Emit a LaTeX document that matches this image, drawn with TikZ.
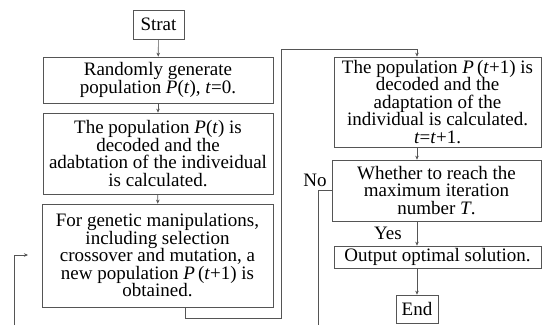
\documentclass[tikz,border=0pt]{standalone}
\usepackage{fontspec}
\setmainfont{Liberation Serif}
\usetikzlibrary{arrows.meta}

\definecolor{linegray}{RGB}{85,85,85}
\newcommand{\flowfont}{\fontsize{19}{17.5}\selectfont}

\tikzset{
    stepbox/.style={draw=linegray, line width=0.7pt, inner sep=0pt, align=center, font=\flowfont},
    link/.style={draw=linegray, line width=0.6pt},
    linkarrow/.style={link, -{Stealth[length=4pt,width=3.5pt]}}
}

\begin{document}
\begin{tikzpicture}[x=1pt,y=-1pt]
    \useasboundingbox (0,0) rectangle (550,325);

    % left column
    \node[stepbox, minimum width=51pt, minimum height=29pt] (strat) at (158.5,24.5) {Strat};
    \node[stepbox, minimum width=230pt, minimum height=46pt] (rand) at (158,80) {Randomly generate\\population \textit{P}(\textit{t}), \textit{t}=0.};
    \node[stepbox, minimum width=230pt, minimum height=81pt] (decode) at (158,153.5) {The population \textit{P}(\textit{t}) is\\decoded and the\\adabtation of the indiveidual\\is calculated.};
    \node[stepbox, minimum width=231pt, minimum height=103pt] (genetic) at (157.5,255.5) {For genetic manipulations,\\including selection\\crossover and mutation, a\\new population \textit{P}\,(\textit{t}+1) is\\obtained.};

    % right column
    \node[stepbox, minimum width=207pt, minimum height=90pt] (decodeN) at (437.5,102) {The population \textit{P}\,(\textit{t}+1) is\\decoded and the\\adaptation of the\\individual is calculated.\\\textit{t}=\textit{t}+1.};
    \node[stepbox, minimum width=209pt, minimum height=61pt] (check) at (436.5,190.5) {Whether to reach the\\maximum iteration\\number \textit{T}.};
    \node[stepbox, minimum width=207pt, minimum height=22pt] (output) at (437.5,257) {Output optimal solution.};
    \node[stepbox, minimum width=42pt, minimum height=28pt] (end) at (417,309) {End};

    \node[font=\flowfont] (no) at (315,180) {No};
    \node[font=\flowfont] (yes) at (388,233) {Yes};

    % helper points for the bends
    \coordinate (col) at (417,0);
    \coordinate (gx) at (185,0);
    \coordinate (loopB) at (281,318);
    \coordinate (loopT) at (281,49);
    \coordinate (noA) at (318,190.5);
    \coordinate (noB) at (318,325);
    \coordinate (backA) at (14,325);
    \coordinate (backB) at (28,255);

    % main flow
    \draw[linkarrow] (strat) -- (rand);
    \draw[linkarrow] (rand) -- (decode);
    \draw[linkarrow] (decode) -- (genetic);
    \draw[linkarrow] (genetic.south -| gx) |- (loopB) -- (loopT) -| (decodeN.north -| col);
    \draw[linkarrow] (decodeN.south -| col) -- (check.north -| col);
    \draw[linkarrow] (check.south -| col) -- (output.north -| col);
    \draw[linkarrow] (output.south -| col) -- (end);

    % No branch
    \draw[link] (check.west) -- (noA) -- (noB);
    \draw[linkarrow] (backA) |- (backB);
\end{tikzpicture}
\end{document}
